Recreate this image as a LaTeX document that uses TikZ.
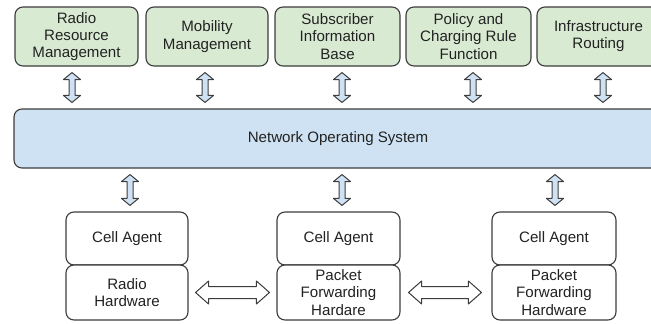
\documentclass[tikz,border=0pt]{standalone}
\usepackage{fontspec}
\setmainfont{Liberation Sans}
\usetikzlibrary{calc}
\definecolor{boxgreen}{HTML}{D9EAD3}
\definecolor{boxblue}{HTML}{CFE2F3}
\definecolor{edge}{HTML}{3C3C3C}
\definecolor{txt}{HTML}{222222}
\tikzset{
  base/.style={draw=edge, line width=1.1pt, rounded corners=8pt, align=center,
    text=txt, font=\fontsize{15.1}{17.2}\selectfont, inner sep=0pt},
  topbox/.style={base, fill=boxgreen, minimum height=59pt},
  nosbox/.style={base, fill=boxblue, minimum height=59pt},
  agentbox/.style={base, fill=white, minimum height=53pt, minimum width=122pt},
  hwbox/.style={base, fill=white, minimum height=55pt, minimum width=122pt},
  varr/.style={draw=edge, fill=boxblue, line width=1pt, line join=round},
  harr/.style={draw=edge, fill=white, line width=1pt, line join=round},
}
% vertical double arrow: #1 x (pt), #2 upper node, #3 lower node
\newcommand\vdarrow[3]{%
  \draw[varr] let \p1=(#2.south), \p2=(#3.north) in
    (#1pt,\y1-6pt) -- (#1pt-8.5pt,\y1-13pt) -- (#1pt-3pt,\y1-13pt)
    -- (#1pt-3pt,\y2+13pt) -- (#1pt-8.5pt,\y2+13pt) -- (#1pt,\y2+6pt)
    -- (#1pt+8.5pt,\y2+13pt) -- (#1pt+3pt,\y2+13pt) -- (#1pt+3pt,\y1-13pt)
    -- (#1pt+8.5pt,\y1-13pt) -- cycle;}
% horizontal double arrow: #1 left node, #2 right node, #3 left gap, #4 right gap
\newcommand\hdarrow[4]{%
  \draw[harr] let \p1=(#1.east), \p2=(#2.west) in
    (\x1+#3pt,\y1) -- (\x1+#3pt+13pt,\y1+11.5pt) -- (\x1+#3pt+13pt,\y1+6pt)
    -- (\x2-#4pt-13pt,\y1+6pt) -- (\x2-#4pt-13pt,\y1+11.5pt) -- (\x2-#4pt,\y1)
    -- (\x2-#4pt-13pt,\y1-11.5pt) -- (\x2-#4pt-13pt,\y1-6pt)
    -- (\x1+#3pt+13pt,\y1-6pt) -- (\x1+#3pt+13pt,\y1-11.5pt) -- cycle;}
\begin{document}
\begin{tikzpicture}[x=1pt,y=-1pt]
\useasboundingbox (0,0) rectangle (651,324);
\begin{scope}
\clip (0,0) rectangle (651,324);
% top row
\node[topbox, minimum width=123pt] (rrm) at (76.5,36.5) {Radio\\Resource\\Management};
\node[topbox, minimum width=122pt] (mm) at (207,36.5) {Mobility\\Management};
\node[topbox, minimum width=125pt] (sib) at (337.5,36.5) {Subscriber\\Information\\Base};
\node[topbox, minimum width=125pt] (pcrf) at (468.5,36.5) {Policy and\\Charging Rule\\Function};
\node[topbox, minimum width=123pt] (ir) at (598.5,36.5) {Infrastructure\\Routing};
% NOS
\node[nosbox, minimum width=648pt] (nos) at (338,138.5) {Network Operating System};
% bottom
\node[agentbox] (c1) at (127,238.5) {Cell Agent};
\node[hwbox] (h1) at (127,292.5) {Radio\\Hardware};
\node[agentbox, minimum width=123pt] (c2) at (338.5,238.5) {Cell Agent};
\node[hwbox, minimum width=123pt] (h2) at (338.5,292.5) {Packet\\Forwarding\\Hardare};
\node[agentbox, minimum width=124pt] (c3) at (554,238.5) {Cell Agent};
\node[hwbox, minimum width=124pt] (h3) at (554,292.5) {Packet\\Forwarding\\Hardware};
% arrows top
\vdarrow{72}{rrm}{nos}
\vdarrow{205}{mm}{nos}
\vdarrow{342}{sib}{nos}
\vdarrow{473}{pcrf}{nos}
\vdarrow{603}{ir}{nos}
% arrows bottom
\vdarrow{130}{nos}{c1}
\vdarrow{342}{nos}{c2}
\vdarrow{555}{nos}{c3}
% horizontal
\hdarrow{h1}{h2}{7}{7}
\hdarrow{h2}{h3}{8}{10}
\end{scope}
\end{tikzpicture}
\end{document}
